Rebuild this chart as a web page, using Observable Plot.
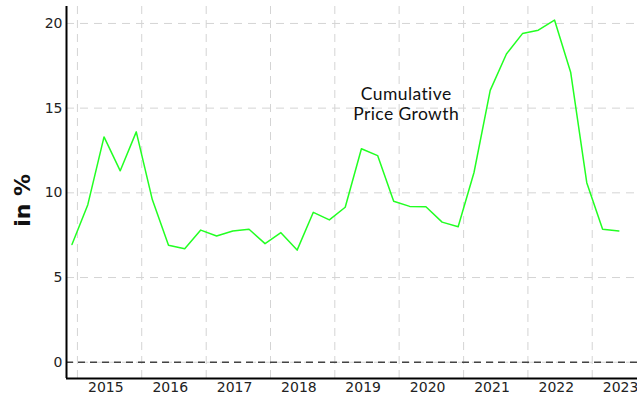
<!DOCTYPE html>
<html>
<head>
<meta charset="utf-8">
<script src="https://cdn.jsdelivr.net/npm/d3@7"></script>
<script src="https://cdn.jsdelivr.net/npm/@observablehq/plot@0.6"></script>
<style>
  html, body { margin: 0; padding: 0; background: #fff; }
  #chart svg { display: block; }
  .annot text { letter-spacing: 0.4px; }
</style>
</head>
<body>
<div id="chart"></div>
<script>
// Quarterly observation dates
const dates = [
  "2014-12-01",
  "2015-03-01", "2015-06-01", "2015-09-01", "2015-12-01",
  "2016-03-01", "2016-06-01", "2016-09-01", "2016-12-01",
  "2017-03-01", "2017-06-01", "2017-09-01", "2017-12-01",
  "2018-03-01", "2018-06-01", "2018-09-01", "2018-12-01",
  "2019-03-01", "2019-06-01", "2019-09-01", "2019-12-01",
  "2020-03-01", "2020-06-01", "2020-09-01", "2020-12-01",
  "2021-03-01", "2021-06-01", "2021-09-01", "2021-12-01",
  "2022-03-01", "2022-06-01", "2022-09-01", "2022-12-01",
  "2023-03-01", "2023-06-01"
];
// Cumulative price growth, in %
const values = [
  6.95,
  9.3, 13.3, 11.3, 13.6,
  9.6, 6.9, 6.7, 7.8,
  7.45, 7.75, 7.85, 7.0,
  7.65, 6.62, 8.85, 8.4,
  9.15, 12.6, 12.2, 9.5,
  9.2, 9.18, 8.27, 8.0,
  11.2, 16.05, 18.2, 19.4,
  19.6, 20.2, 17.1, 10.6,
  7.85, 7.75
];
const yearLabels = ["2015", "2016", "2017", "2018", "2019", "2020", "2021", "2022", "2023"];
const yTicks = [0, 5, 10, 15, 20];
const annotation = "Cumulative\nPrice Growth";

const data = dates.map((d, i) => ({date: new Date(d), value: values[i]}));
const gridDates = yearLabels.map(y => new Date(`${y}-01-01`));
const labelDates = yearLabels.map(y => new Date(`${y}-06-11`));
const xDomain = [new Date("2014-10-31"), new Date("2023-09-15")];
const yDomain = [-0.96, 21.0];

const chart = Plot.plot({
  width: 637,
  height: 400,
  marginLeft: 66,
  marginRight: 0,
  marginTop: 6,
  marginBottom: 22,
  style: {fontFamily: "DejaVu Sans", background: "#fff"},
  x: {type: "utc", domain: xDomain},
  y: {domain: yDomain},
  marks: [
    Plot.gridY(yTicks, {stroke: "#d4d4d4", strokeOpacity: 1, strokeWidth: 1, strokeDasharray: "8,6"}),
    Plot.gridX(gridDates, {stroke: "#d4d4d4", strokeOpacity: 1, strokeWidth: 1, strokeDasharray: "8,6"}),
    Plot.ruleY([0], {stroke: "#444", strokeWidth: 1.5, strokeDasharray: "7,5"}),
    Plot.axisY(yTicks, {tickSize: 0, tickPadding: 4, fontSize: 14, color: "#222", label: null}),
    Plot.axisX(labelDates, {tickSize: 0, tickPadding: 4, fontSize: 14, color: "#222", label: null,
      tickFormat: d => String(d.getUTCFullYear())}),
    Plot.ruleX([xDomain[0]], {stroke: "#000", strokeWidth: 2}),
    Plot.ruleY([yDomain[0]], {stroke: "#000", strokeWidth: 2}),
    Plot.line(data, {x: "date", y: "value", stroke: "#22ff22", strokeWidth: 1.5}),
    Plot.text([annotation], {x: new Date("2020-02-10"), y: 15.25, text: d => d,
      fontFamily: "Lato", fontSize: 17.5, fill: "#111", lineHeight: 1.15, textAnchor: "middle",
      className: "annot"}),
    Plot.text(["in %"], {x: xDomain[0], y: 9.56, text: d => d, rotate: -90, dx: -44,
      fontFamily: "DejaVu Sans", fontWeight: "bold", fontSize: 22, fill: "#111"})
  ]
});
document.getElementById("chart").appendChild(chart);
</script>
</body>
</html>
